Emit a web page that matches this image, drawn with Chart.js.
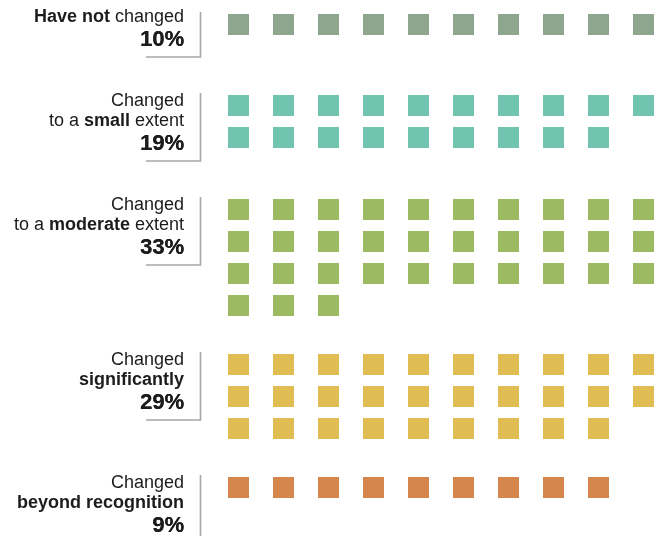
<!DOCTYPE html>
<html>
<head>
<meta charset="utf-8">
<script src="https://cdn.jsdelivr.net/npm/chart.js@4"></script>
<style>
  html, body { margin: 0; padding: 0; background: #ffffff; }
  #c { display: block; }
</style>
</head>
<body>
<canvas id="c" width="666" height="536"></canvas>
<script>
// ---- Data ----
const categories = [
  "Have not changed",
  "Changed to a small extent",
  "Changed to a moderate extent",
  "Changed significantly",
  "Changed beyond recognition"
];
// label text lines, each a list of [text, bold] segments
const labelLines = [
  [[["Have not", true], [" changed", false]]],
  [[["Changed", false]], [["to a ", false], ["small", true], [" extent", false]]],
  [[["Changed", false]], [["to a ", false], ["moderate", true], [" extent", false]]],
  [[["Changed", false]], [["significantly", true]]],
  [[["Changed", false]], [["beyond recognition", true]]]
];
const percentages = [10, 19, 33, 29, 9];
const colors = ["#8FA68E", "#71C4AF", "#9BBA62", "#DFBD52", "#D4864C"];
const perRow = 10;

// ---- Layout helpers (pixel-unit y scale) ----
const SQ = 21, COL_PITCH = 45, ROW_PITCH = 32, FIRST_TOP = 12, GAP = 35.75;
const groupTop = [], groupLabelBottom = [];
(function () {
  let s = FIRST_TOP;
  percentages.forEach((p, g) => {
    const st = Math.round(s);
    groupTop.push(st);
    const lines = labelLines[g].length + 1;
    const labelBottom = st + 23 * lines - 1;
    groupLabelBottom.push(labelBottom);
    const rows = Math.ceil(p / perRow);
    const sqBottom = st + 2 + ROW_PITCH * (rows - 1) + SQ;
    s = Math.max(labelBottom, sqBottom) + GAP;
  });
})();

const datasets = percentages.map((p, g) => {
  const pts = [];
  for (let i = 0; i < p; i++) {
    pts.push({ x: i % perRow, y: groupTop[g] + 2 + SQ / 2 + ROW_PITCH * Math.floor(i / perRow) });
  }
  return {
    label: categories[g],
    data: pts,
    backgroundColor: colors[g],
    borderWidth: 0,
    pointStyle: 'rect',
    pointRadius: SQ / Math.SQRT2,
    pointHoverRadius: SQ / Math.SQRT2
  };
});

const W = 666, H = 536, X0 = 238.5;
const FONT = '"Liberation Sans", Arial, Helvetica, sans-serif';

const labelPlugin = {
  id: 'labels',
  afterDatasetsDraw(chart) {
    const ctx = chart.ctx;
    const yS = chart.scales.y;
    ctx.save();
    percentages.forEach((p, g) => {
      const top = yS.getPixelForValue(groupTop[g]);
      const bottom = yS.getPixelForValue(groupLabelBottom[g]);
      // vertical bracket line + tick
      ctx.strokeStyle = '#a6a6a6';
      ctx.lineWidth = 1.6;
      ctx.beginPath();
      ctx.moveTo(200.5, top);
      ctx.lineTo(200.5, bottom);
      ctx.lineTo(146, bottom);
      ctx.stroke();
      // text
      const right = 184;
      ctx.fillStyle = '#1e1b1c';
      ctx.textBaseline = 'alphabetic';
      ctx.textAlign = 'left';
      const pctBase = bottom - 11;
      ctx.font = '700 22px ' + FONT;
      const pt = p + '%';
      const pw = ctx.measureText(pt).width;
      ctx.fillText(pt, right - pw, pctBase);
      ctx.fillText(pt, right - pw + 0.4, pctBase);
      const lines = labelLines[g];
      lines.forEach((segs, li) => {
        const base = pctBase - 24.5 - 20 * (lines.length - 1 - li);
        let total = 0;
        const widths = segs.map(([t, b]) => {
          ctx.font = (b ? '700 ' : '400 ') + '18px ' + FONT;
          const w = ctx.measureText(t).width;
          total += w;
          return w;
        });
        let x = right - total;
        segs.forEach(([t, b], si) => {
          ctx.font = (b ? '700 ' : '400 ') + '18px ' + FONT;
          ctx.fillText(t, x, base);
          x += widths[si];
        });
      });
    });
    ctx.restore();
  }
};

new Chart(document.getElementById('c'), {
  type: 'scatter',
  data: { datasets },
  options: {
    responsive: false,
    animation: false,
    devicePixelRatio: 1,
    layout: { padding: 0, autoPadding: false },
    plugins: { legend: { display: false }, tooltip: { enabled: false } },
    events: [],
    scales: {
      x: { type: 'linear', display: false, min: -X0 / COL_PITCH, max: (W - X0) / COL_PITCH },
      y: { type: 'linear', display: false, reverse: true, min: 0, max: H }
    }
  },
  plugins: [labelPlugin]
});
</script>
</body>
</html>
